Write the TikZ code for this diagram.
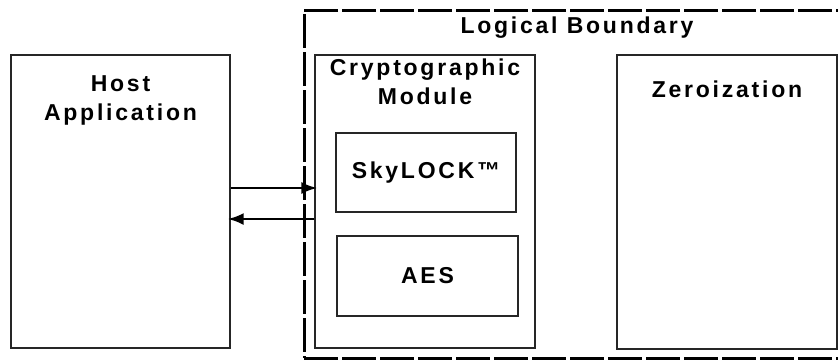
\documentclass[tikz,border=0pt]{standalone}
\usepackage{fontspec}
\setmainfont{Liberation Sans}[LetterSpace=12]
\usepackage{tikz}
\usetikzlibrary{
    arrows.meta,
    positioning
}
\tikzset{
    blk/.style={draw=black!85, line width=1.3pt, inner sep=0pt},
    lbl/.style={inner sep=0pt, align=center, font=\fontsize{23}{29}\selectfont\bfseries},
    bnd/.style={draw, line width=3pt, dash pattern=on 34pt off 4pt, inner sep=0pt},
    arr/.style={line width=2.8pt, -{Latex[length=16pt, width=12pt]}}
}

\begin{document}
\begin{tikzpicture}[x=1pt, y=1pt]
    \useasboundingbox (0, 0) rectangle (838, 360);
    % logical boundary
    \node[bnd, minimum width=546, minimum height=348] (bound) at (577, 176) {};
    \node[lbl, below=8pt of bound.north] (boundlbl) {Logical Boundary};
    % host side
    \node[blk, minimum width=219, minimum height=293] (host) at (120.5, 158.5) {};
    \node[lbl, below=21pt of host.north] (hostlbl) {Host\\Application};
    % module
    \node[blk, minimum width=220, minimum height=293] (crypto) at (425, 158.5) {};
    \node[lbl, below=4pt of crypto.north] (cryptolbl) {Cryptographic\\Module};
    \node[blk, lbl, minimum width=180, minimum height=79] (sky) at (426, 187.5) {SkyLOCK™};
    \node[blk, lbl, minimum width=181, minimum height=80] (aes) at (427.5, 84) {AES};
    % zeroization
    \node[blk, minimum width=220, minimum height=294] (zero) at (727, 158) {};
    \node[lbl, below=26pt of zero.north] (zerolbl) {Zeroization};
    % data flow
    \draw[arr] ([yshift=13.5pt]host.east) -- ([yshift=13.5pt, xshift=3pt]crypto.west);
    \draw[arr] ([yshift=-17.5pt]crypto.west) -- ([yshift=-17.5pt, xshift=-3pt]host.east);
\end{tikzpicture}
\end{document}
